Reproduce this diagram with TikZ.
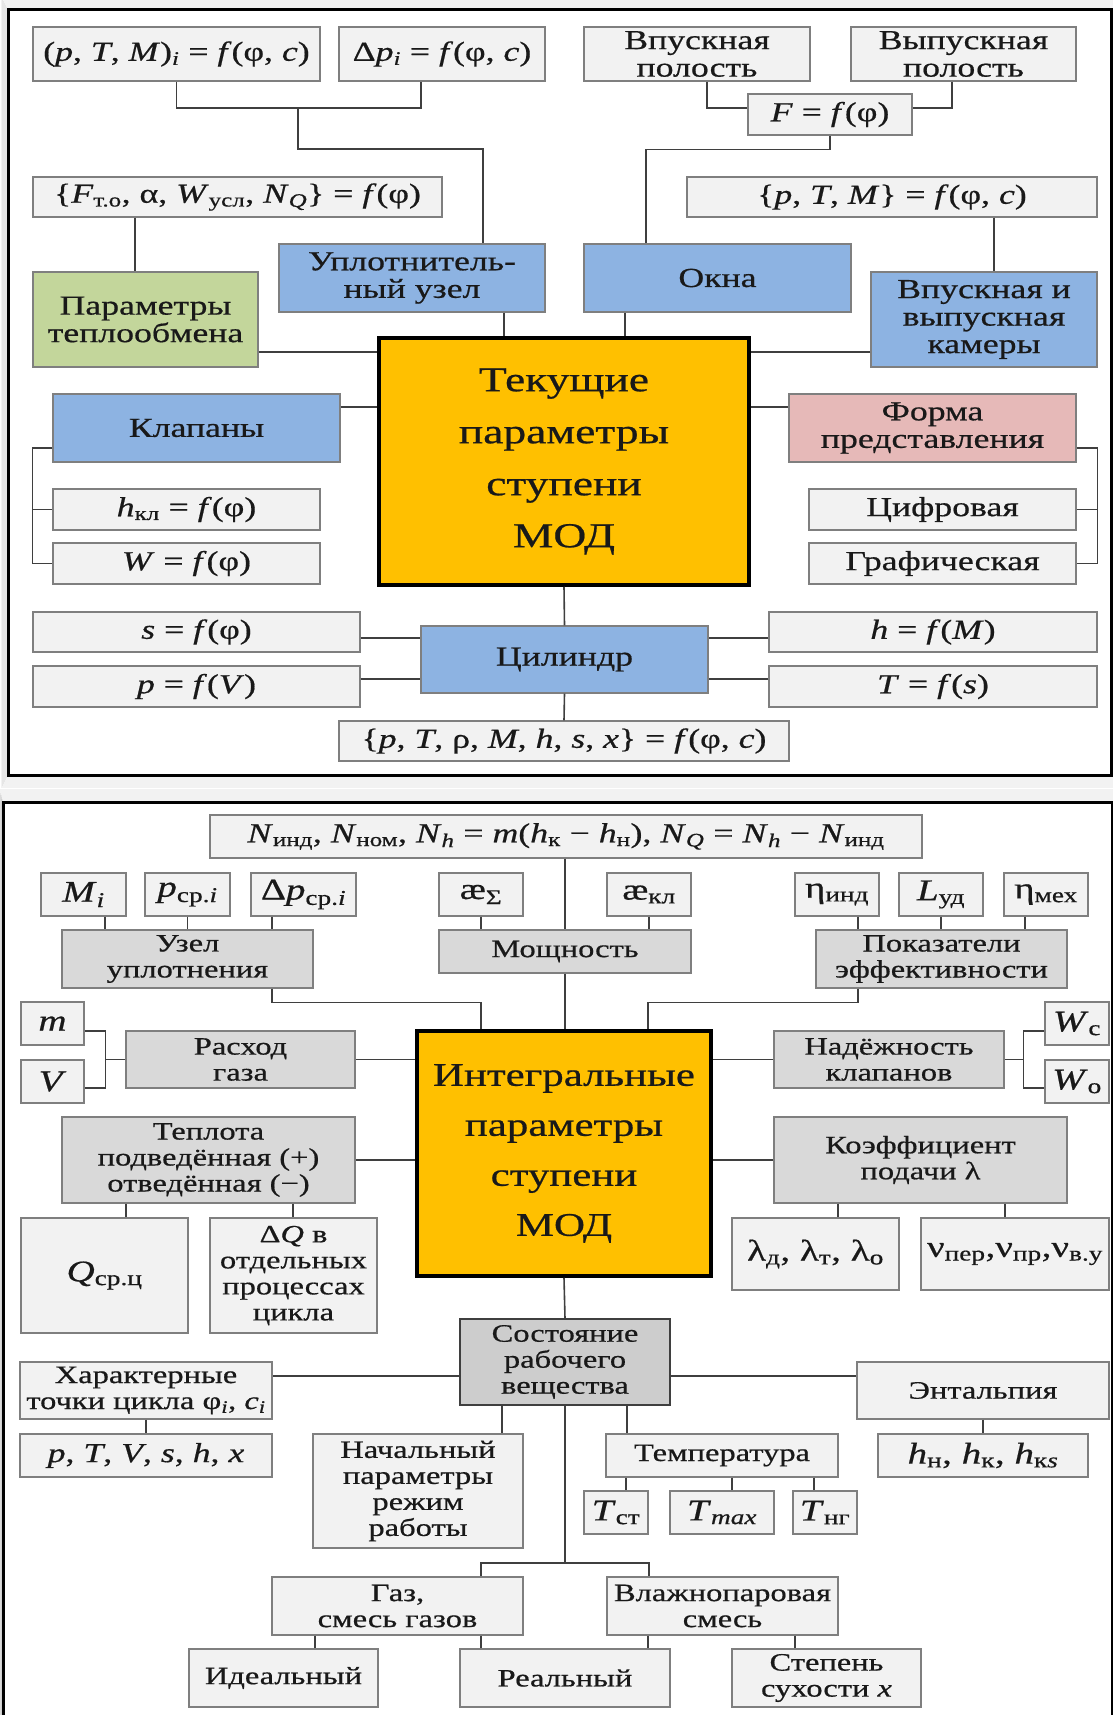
\documentclass[tikz,border=0pt]{standalone}
\usepackage{fontspec}
\setmainfont{Liberation Serif}[FakeStretch=1.3, FakeBold=0.6]
\usetikzlibrary{calc}

\definecolor{lightbox}{HTML}{F2F2F2}
\definecolor{midbox}{HTML}{D9D9D9}
\definecolor{darkbox}{HTML}{CDCDCD}
\definecolor{bluebox}{HTML}{8DB3E2}
\definecolor{greenbox}{HTML}{C3D69B}
\definecolor{pinkbox}{HTML}{E6B9B8}
\definecolor{goldbox}{HTML}{FFC000}
\definecolor{boxline}{HTML}{7F7F7F}
\definecolor{linegray}{HTML}{3F3F3F}

\newcommand{\vi}[1]{\textit{#1}}
\newcommand{\ix}[1]{\textsubscript{#1}}

\begin{document}
\begin{tikzpicture}[
    x=1pt, y=-1pt,
    box/.style={rectangle, draw=boxline, line width=1.2pt, fill=#1, align=center, inner sep=1pt, text=black!90, font=\fontsize{25}{26}\selectfont},
    box/.default=lightbox,
    lt/.style={box=lightbox},
    md/.style={box=midbox},
    bl/.style={box=bluebox},
    gr/.style={box=greenbox},
    pk/.style={box=pinkbox},
    big/.style={font=\fontsize{27.5}{27.5}\selectfont},
    fm/.style={font=\fontsize{30}{30}\selectfont},
    core/.style={rectangle, draw=black, line width=3.5pt, fill=goldbox, align=center, text=black!90},
    conn/.style={draw=linegray, line width=1.6pt},
    frame/.style={draw=black, line width=3pt}
]
\useasboundingbox (0,0) rectangle (1113,1715);

% shadows and frames
\foreach \d in {2,4,...,12}
  \draw[black, opacity=0.05, line width=2pt] (8-\d*0.5,10-\d) rectangle (1111+\d,775+\d);
\draw[frame] (8,10) rectangle (1111,775);
\foreach \d in {2,4,...,12}
  \draw[black, opacity=0.05, line width=2pt] (3-\d*0.3,802-\d) rectangle (1112+\d,1730);
\draw[frame] (3,802) rectangle (1112,1730);

% ---------- current parameters ----------
\begin{scope}[box/.append style={big}]
\node[core, minimum width=370, minimum height=247, font=\fontsize{35}{52}\selectfont] (cur) at (564,461.5) {Текущие\\параметры\\ступени\\МОД};

\node[lt, minimum width=287, minimum height=54] (pTMi) at (176.5,54) {(\vi{p}, \vi{T}, \vi{M})\ix{\vi{i}} = \vi{f}(φ, \vi{c})};
\node[lt, minimum width=206, minimum height=54] (dpi) at (442,54) {Δ\vi{p}\ix{\vi{i}} = \vi{f}(φ, \vi{c})};
\node[lt, minimum width=226, minimum height=54] (inpol) at (697,54) {Впускная\\полость};
\node[lt, minimum width=225, minimum height=54] (outpol) at (963.5,54) {Выпускная\\полость};
\node[lt, minimum width=164, minimum height=41] (Fphi) at (830,114.5) {\vi{F} = \vi{f}(φ)};
\node[lt, minimum width=409, minimum height=40] (Fto) at (237.5,197) {\{\vi{F}\ix{т.о}, α, \vi{W}\ix{усл}, \vi{N}\ix{\vi{Q}}\} = \vi{f}(φ)};
\node[lt, minimum width=410, minimum height=40] (pTM) at (892,197) {\{\vi{p}, \vi{T}, \vi{M}\} = \vi{f}(φ, \vi{c})};
\node[bl, minimum width=266, minimum height=68] (upl) at (412,278) {Уплотнитель-\\ный узел};
\node[bl, minimum width=267, minimum height=68] (okna) at (717.5,278) {Окна};
\node[gr, minimum width=225, minimum height=95] (heat) at (145.5,319.5) {Параметры\\теплообмена};
\node[bl, minimum width=226, minimum height=95] (kam) at (984,319.5) {Впускная и\\выпускная\\камеры};
\node[bl, minimum width=287, minimum height=68] (klap) at (196.5,428) {Клапаны};
\node[pk, minimum width=287, minimum height=68] (forma) at (932.5,428) {Форма\\представления};
\node[lt, minimum width=267, minimum height=41] (hkl) at (186.5,509.5) {\vi{h}\ix{кл} = \vi{f}(φ)};
\node[lt, minimum width=267, minimum height=41] (Wphi) at (186.5,563.5) {\vi{W} = \vi{f}(φ)};
\node[lt, minimum width=267, minimum height=41] (cifr) at (942.5,509.5) {Цифровая};
\node[lt, minimum width=267, minimum height=41] (graf) at (942.5,563.5) {Графическая};
\node[lt, minimum width=327, minimum height=40] (sphi) at (196.5,632) {\vi{s} = \vi{f}(φ)};
\node[lt, minimum width=327, minimum height=41] (pV) at (196.5,686.5) {\vi{p} = \vi{f}(\vi{V})};
\node[bl, minimum width=287, minimum height=67] (cyl) at (564.5,659.5) {Цилиндр};
\node[lt, minimum width=328, minimum height=40] (hM) at (933,632) {\vi{h} = \vi{f}(\vi{M})};
\node[lt, minimum width=328, minimum height=41] (Ts) at (933,686.5) {\vi{T} = \vi{f}(\vi{s})};
\node[lt, minimum width=450, minimum height=40] (allp) at (564,741) {\{\vi{p}, \vi{T}, ρ, \vi{M}, \vi{h}, \vi{s}, \vi{x}\} = \vi{f}(φ, \vi{c})};
\end{scope}

\coordinate (j1) at (298,108);
\draw[conn] (pTMi.south) |- (j1) -| ([xshift=-21pt]dpi.south);
\draw[conn] (j1) -- ++(0,41) -| ([xshift=71pt]upl.north);
\draw[conn] ([xshift=92pt]upl.south) -- ([xshift=92pt]upl.south |- cur.north);
\draw[conn] ([xshift=-102.5pt]Fto.south) -- ([xshift=-102.5pt]Fto.south |- heat.north);
\draw[conn] ([yshift=-32.5pt]heat.east) -- ([yshift=-32.5pt]heat.east -| cur.west);
\draw[conn] ([xshift=10pt]inpol.south) |- ([yshift=6.5pt]Fphi.west);
\draw[conn] ([xshift=-11.5pt]outpol.south) |- ([yshift=6.5pt]Fphi.east);
\draw[conn] (Fphi.south) -- ++(0,14) -| ([xshift=-71.5pt]okna.north);
\draw[conn] ([xshift=-92.5pt]okna.south) -- ([xshift=-92.5pt]okna.south |- cur.north);
\draw[conn] ([xshift=102pt]pTM.south) -- ([xshift=102pt]pTM.south |- kam.north);
\draw[conn] ([yshift=-32.5pt]kam.west) -- ([yshift=-32.5pt]kam.west -| cur.east);
\draw[conn] ([yshift=21pt]klap.east) -- ([yshift=21pt]klap.east -| cur.west);
\draw[conn] ([yshift=21pt]forma.west) -- ([yshift=21pt]forma.west -| cur.east);
\draw[conn] ([yshift=-20pt]klap.west) -- ++(-20,0) |- (Wphi.west);
\draw[conn] (hkl.west) -- ++(-20,0);
\draw[conn] ([yshift=-20pt]forma.east) -- ++(21,0) |- (graf.east);
\draw[conn] (cifr.east) -- ++(21,0);
\draw[conn] (cur.south) -- (cyl.north);
\draw[conn] (cyl.south) -- (allp.north);
\draw[conn] ([yshift=-6pt]sphi.east) -- ([yshift=-6pt]sphi.east -| cyl.west);
\draw[conn] ([yshift=7.5pt]pV.east) -- ([yshift=7.5pt]pV.east -| cyl.west);
\draw[conn] ([yshift=-6pt]hM.west) -- ([yshift=-6pt]hM.west -| cyl.east);
\draw[conn] ([yshift=7.5pt]Ts.west) -- ([yshift=7.5pt]Ts.west -| cyl.east);

% ---------- integral parameters ----------
\node[core, minimum width=294, minimum height=245, font=\fontsize{33}{50}\selectfont] (integ) at (564,1153.5) {Интегральные\\параметры\\ступени\\МОД};

\node[lt, big, minimum width=712, minimum height=43] (Npow) at (566,836.5) {\vi{N}\ix{инд}, \vi{N}\ix{ном}, \vi{N}\ix{\vi{h}} = \vi{m}(\vi{h}\ix{к} − \vi{h}\ix{н}), \vi{N}\ix{\vi{Q}} = \vi{N}\ix{\vi{h}} − \vi{N}\ix{инд}};
\node[lt, fm, minimum width=85, minimum height=43] (Mi) at (83.5,894.5) {\vi{M}\ix{\vi{i}}};
\node[lt, fm, minimum width=85, minimum height=43] (pcp) at (187.5,894.5) {\vi{p}\ix{ср.\vi{i}}};
\node[lt, fm, minimum width=105, minimum height=43] (dpcp) at (303.5,894.5) {Δ\vi{p}\ix{ср.\vi{i}}};
\node[lt, fm, minimum width=84, minimum height=43] (kS) at (481,894.5) {æ\ix{Σ}};
\node[lt, fm, minimum width=84, minimum height=43] (kkl) at (649,894.5) {æ\ix{кл}};
\node[lt, fm, minimum width=84, minimum height=43] (eind) at (837,894.5) {η\ix{инд}};
\node[lt, fm, minimum width=84, minimum height=43] (Lud) at (941,894.5) {\vi{L}\ix{уд}};
\node[lt, fm, minimum width=84, minimum height=43] (emex) at (1046,894.5) {η\ix{мех}};
\node[md, minimum width=251, minimum height=58] (uzel) at (187.5,959) {Узел\\уплотнения};
\node[md, minimum width=252, minimum height=43] (mosh) at (565,951.5) {Мощность};
\node[md, minimum width=251, minimum height=58] (pokaz) at (941.5,959) {Показатели\\эффективности};
\node[lt, fm, minimum width=63, minimum height=43] (mm) at (52.5,1023.5) {\vi{m}};
\node[lt, fm, minimum width=63, minimum height=43] (VV) at (52.5,1081.5) {\vi{V}};
\node[md, minimum width=229, minimum height=57] (rash) at (240.5,1059.5) {Расход\\газа};
\node[md, minimum width=230, minimum height=57] (nadezh) at (889,1059.5) {Надёжность\\клапанов};
\node[lt, fm, minimum width=64, minimum height=43] (Wc) at (1077,1023.5) {\vi{W}\ix{с}};
\node[lt, fm, minimum width=64, minimum height=43] (Wo) at (1077,1081.5) {\vi{W}\ix{о}};
\node[md, minimum width=293, minimum height=86] (tepl) at (208.5,1160) {Теплота\\подведённая (+)\\отведённая (−)};
\node[md, minimum width=293, minimum height=86] (koef) at (920.5,1160) {Коэффициент\\подачи λ};
\node[lt, fm, minimum width=167, minimum height=115] (Qcp) at (104.5,1275.5) {\vi{Q}\ix{ср.ц}};
\node[lt, minimum width=167, minimum height=115] (dQ) at (293.5,1275.5) {Δ\vi{Q} в\\отдельных\\процессах\\цикла};
\node[lt, fm, minimum width=167, minimum height=72] (lam) at (815.5,1254) {λ\ix{д}, λ\ix{т}, λ\ix{о}};
\node[lt, fm, minimum width=188, minimum height=72] (nu) at (1015,1254) {ν\ix{пер},ν\ix{пр},ν\ix{в.у}};
\node[box=darkbox, draw=linegray, minimum width=210, minimum height=86] (sost) at (565,1362) {Состояние\\рабочего\\вещества};
\node[lt, minimum width=252, minimum height=57] (har) at (146,1390.5) {Характерные\\точки цикла φ\ix{\vi{i}}, \vi{c}\ix{\vi{i}}};
\node[lt, big, minimum width=252, minimum height=43] (pTV) at (146,1455.5) {\vi{p}, \vi{T}, \vi{V}, \vi{s}, \vi{h}, \vi{x}};
\node[lt, minimum width=252, minimum height=57] (ent) at (983,1390.5) {Энтальпия};
\node[lt, fm, minimum width=210, minimum height=43] (hn) at (983,1455.5) {\vi{h}\ix{н}, \vi{h}\ix{к}, \vi{h}\ix{к\vi{s}}};
\node[lt, minimum width=210, minimum height=114] (nach) at (418,1491) {Начальный\\параметры\\режим\\работы};
\node[lt, minimum width=232, minimum height=43] (temp) at (722,1455.5) {Температура};
\node[lt, fm, minimum width=64, minimum height=43] (Tst) at (616,1512.5) {\vi{T}\ix{ст}};
\node[lt, fm, minimum width=104, minimum height=43] (Tmax) at (722,1512.5) {\vi{T}\ix{\vi{max}}};
\node[lt, fm, minimum width=64, minimum height=43] (Tng) at (825,1512.5) {\vi{T}\ix{нг}};
\node[lt, minimum width=251, minimum height=58] (gaz) at (397.5,1606) {Газ,\\смесь газов};
\node[lt, minimum width=231, minimum height=58] (vlag) at (722.5,1606) {Влажнопаровая\\смесь};
\node[lt, minimum width=189, minimum height=58] (ideal) at (283.5,1678) {Идеальный};
\node[lt, minimum width=210, minimum height=58] (real) at (565,1678) {Реальный};
\node[lt, minimum width=189, minimum height=58] (stepen) at (826.5,1678) {Степень\\сухости \vi{x}};

\draw[conn] (mosh.north |- Npow.south) -- (mosh.north);
\draw[conn] (mosh.south) -- (mosh.south |- integ.north);
\draw[conn] ([xshift=21.5pt]Mi.south) -- ([xshift=21.5pt]Mi.south |- uzel.north);
\draw[conn] (pcp.south) -- (pcp.south |- uzel.north);
\draw[conn] ([xshift=-31.5pt]dpcp.south) -- ([xshift=-31.5pt]dpcp.south |- uzel.north);
\draw[conn] (kS.south) -- (kS.south |- mosh.north);
\draw[conn] (kkl.south) -- (kkl.south |- mosh.north);
\draw[conn] ([xshift=21pt]eind.south) -- ([xshift=21pt]eind.south |- pokaz.north);
\draw[conn] (Lud.south) -- (Lud.south |- pokaz.north);
\draw[conn] ([xshift=-21pt]emex.south) -- ([xshift=-21pt]emex.south |- pokaz.north);
\draw[conn] ([xshift=84.5pt]uzel.south) -- ++(0,14) -| ([xshift=-83pt]integ.north);
\draw[conn] ([xshift=-83.5pt]pokaz.south) -- ++(0,14) -| ([xshift=84pt]integ.north);
\draw[conn] ([yshift=-7.5pt]mm.east) -- ++(21,0) coordinate (mvbar) |- ([yshift=-6.5pt]VV.east);
\draw[conn] (rash.west) -- (rash.west -| mvbar);
\draw[conn] (rash.east) -- (rash.east -| integ.west);
\draw[conn] (nadezh.west) -- (nadezh.west -| integ.east);
\draw[conn] ([yshift=-7.5pt]Wc.west) -- ++(-21,0) coordinate (wbar) |- ([yshift=-6.5pt]Wo.west);
\draw[conn] (nadezh.east) -- (nadezh.east -| wbar);
\draw[conn] (tepl.east) -- (tepl.east -| integ.west);
\draw[conn] (koef.west) -- (koef.west -| integ.east);
\draw[conn] ([xshift=-82.5pt]tepl.south) -- ([xshift=-82.5pt]tepl.south |- Qcp.north);
\draw[conn] ([xshift=84.5pt]tepl.south) -- ([xshift=84.5pt]tepl.south |- dQ.north);
\draw[conn] ([xshift=-82.5pt]koef.south) -- ([xshift=-82.5pt]koef.south |- lam.north);
\draw[conn] ([xshift=84.5pt]koef.south) -- ([xshift=84.5pt]koef.south |- nu.north);
\draw[conn] (integ.south) -- (sost.north);
\draw[conn] ([yshift=-14pt]sost.west) -- ([yshift=-14pt]sost.west -| har.east);
\draw[conn] ([yshift=-14pt]sost.east) -- ([yshift=-14pt]sost.east -| ent.west);
\draw[conn] (har.south) -- (pTV.north);
\draw[conn] (ent.south) -- (hn.north);
\draw[conn] ([xshift=-63pt]sost.south) -- ([xshift=-63pt]sost.south |- nach.north);
\draw[conn] ([xshift=62pt]sost.south) -- ([xshift=62pt]sost.south |- temp.north);
\draw[conn] ([xshift=-96pt]temp.south) -- ([xshift=-96pt]temp.south |- Tst.north);
\draw[conn] ([xshift=10pt]temp.south) -- ([xshift=10pt]temp.south |- Tmax.north);
\draw[conn] ([xshift=92pt]temp.south) -- ([xshift=92pt]temp.south |- Tng.north);
\coordinate (j2) at (565,1563);
\draw[conn] (sost.south) -- (j2);
\draw[conn] ([xshift=83.5pt]gaz.north) |- (j2) -| ([xshift=-73.5pt]vlag.north);
\draw[conn] ([xshift=-82.5pt]gaz.south) -- ([xshift=-82.5pt]gaz.south |- ideal.north);
\draw[conn] ([xshift=83.5pt]gaz.south) -- ([xshift=83.5pt]gaz.south |- real.north);
\draw[conn] ([xshift=-74.5pt]vlag.south) -- ([xshift=-74.5pt]vlag.south |- real.north);
\draw[conn] ([xshift=72.5pt]vlag.south) -- ([xshift=72.5pt]vlag.south |- stepen.north);
\end{tikzpicture}
\end{document}
